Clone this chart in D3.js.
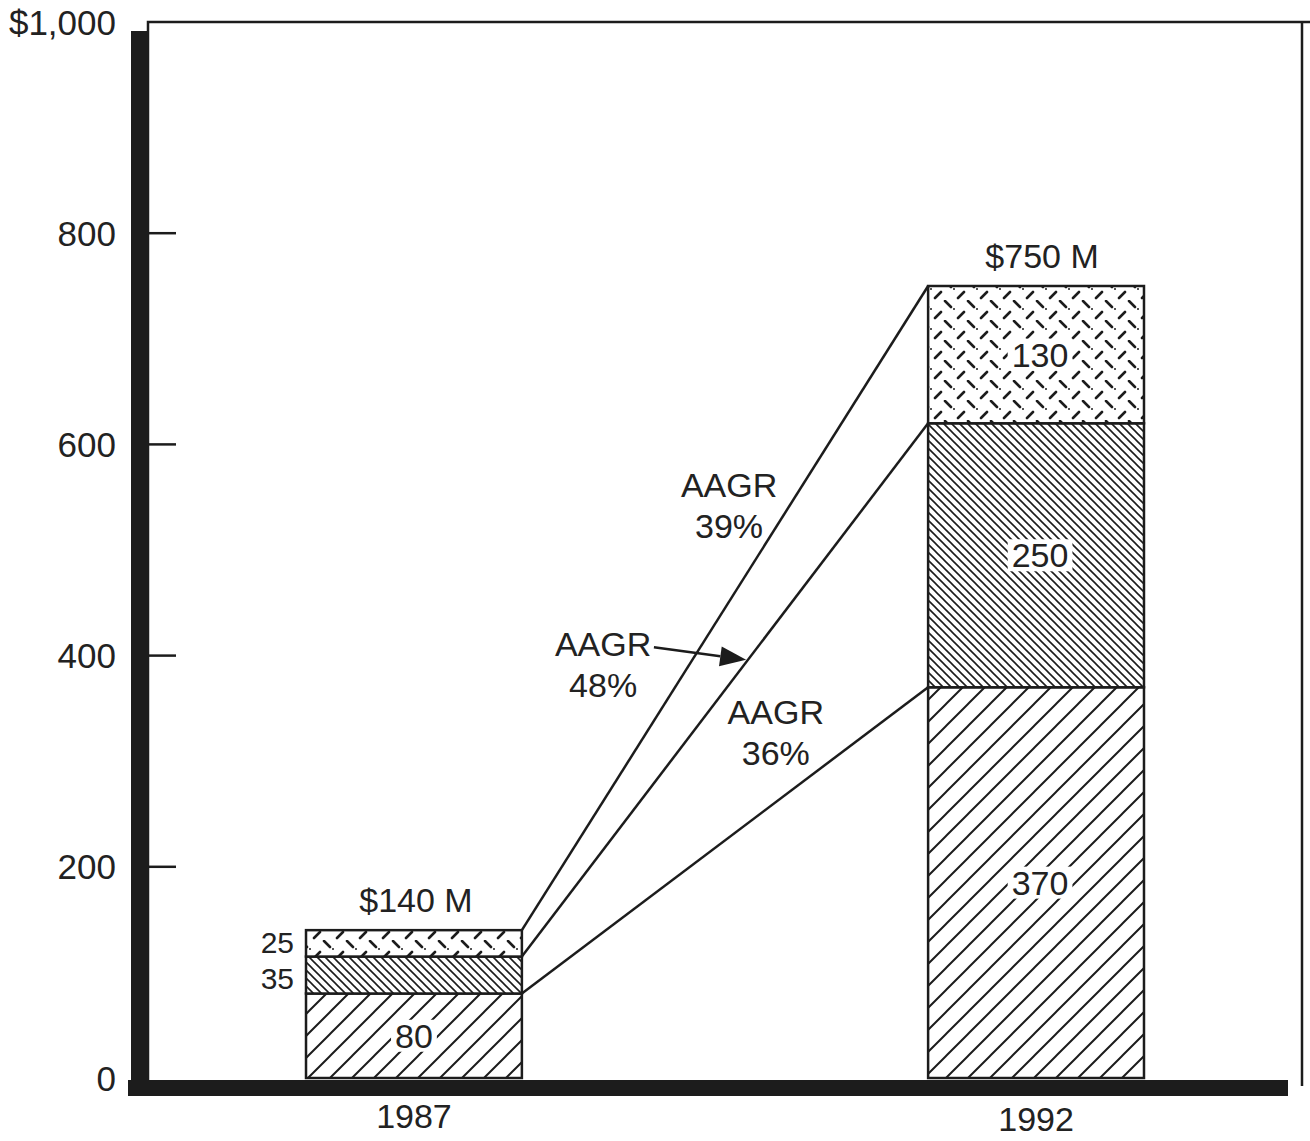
<!DOCTYPE html>
<html>
<head>
<meta charset="utf-8">
<script src="https://cdn.jsdelivr.net/npm/d3@7"></script>
<style>
  html, body { margin: 0; padding: 0; background: #ffffff; }
  svg { display: block; }
  text { font-family: "Liberation Sans", Arial, Helvetica, sans-serif; fill: #222; }
</style>
</head>
<body>
<svg id="chart" width="1310" height="1141"></svg>
<script>
// ---- data ----
const years = ["1987", "1992"];
const values1987 = [80, 35, 25];      // bottom, middle, top segments
const values1992 = [370, 250, 130];
const totalLabels = ["$140 M", "$750 M"];
const yTicks = [0, 200, 400, 600, 800, 1000];
const yTickLabels = ["0", "200", "400", "600", "800", "$1,000"];
const growthRates = ["36%", "48%", "39%"];        // per segment boundary (bottom, middle, top)
const growthAnnotT = [0.625, 0.20, 0.51];          // position between bars (0..1)
const growthAnnotV = [335, 400, 550];              // vertical position in value units
const arrowFromT = 0.325, arrowFromV = 408, arrowToT = 0.552, arrowToV = 396;

// ---- setup ----
const svg = d3.select("#chart");
const W = 1310, H = 1141;
const ink = "#1c1c1c";
const FS = 34;

const y = d3.scaleLinear().domain([0, 1000]).range([1078, 22]);
const x = d3.scaleBand().domain(years).range([148, 1302]).paddingInner(0.653).paddingOuter(0.254);

svg.append("rect").attr("width", W).attr("height", H).attr("fill", "#fff");

// ---- patterns ----
const defs = svg.append("defs");
const pWide = defs.append("pattern").attr("id", "hatchWide").attr("patternUnits", "userSpaceOnUse")
  .attr("width", 22).attr("height", 22);
pWide.append("rect").attr("width", 22).attr("height", 22).attr("fill", "#fff");
pWide.append("path").attr("d", "M0,22 L22,0 M-11,11 L11,-11 M11,33 L33,11")
  .attr("stroke", ink).attr("stroke-width", 2);

const pDense = defs.append("pattern").attr("id", "hatchDense").attr("patternUnits", "userSpaceOnUse")
  .attr("width", 8).attr("height", 8);
pDense.append("rect").attr("width", 8).attr("height", 8).attr("fill", "#fff");
pDense.append("path").attr("d", "M0,0 L8,8 M-4,4 L4,12 M4,-4 L12,4")
  .attr("stroke", ink).attr("stroke-width", 1.6);

const pDash = defs.append("pattern").attr("id", "dashes").attr("patternUnits", "userSpaceOnUse")
  .attr("width", 23).attr("height", 20);
pDash.append("rect").attr("width", 23).attr("height", 20).attr("fill", "#fff");
pDash.append("path").attr("d", "M2,1 L8,7 M15,18 L21,12")
  .attr("stroke", ink).attr("stroke-width", 2.6).attr("stroke-linecap", "round");
pDash.append("circle").attr("cx", 11).attr("cy", 9).attr("r", 1).attr("fill", ink);

const fills = ["url(#hatchWide)", "url(#hatchDense)", "url(#dashes)"];

// ---- stacks ----
const series = [values1987, values1992];
const stacks = series.map((vals, i) => {
  let acc = 0;
  return vals.map((v, j) => { const s = { year: years[i], idx: j, v, y0: acc, y1: acc + v }; acc += v; return s; });
});

// ---- connector lines ----
const xr = x(years[0]) + x.bandwidth();
const xl = x(years[1]);
const lerpX = t => xr + t * (xl - xr);
stacks[0].forEach((s, j) => {
  svg.append("line")
    .attr("x1", xr).attr("y1", y(s.y1))
    .attr("x2", xl).attr("y2", y(stacks[1][j].y1))
    .attr("stroke", ink).attr("stroke-width", 2.5);
});

// ---- bars ----
stacks.forEach(st => {
  const g = svg.append("g");
  g.selectAll("rect").data(st).join("rect")
    .attr("x", d => x(d.year))
    .attr("width", x.bandwidth())
    .attr("y", d => y(d.y1))
    .attr("height", d => y(d.y0) - y(d.y1))
    .attr("fill", d => fills[d.idx])
    .attr("stroke", ink).attr("stroke-width", 2.5);
});

// ---- segment labels ----
function boxedText(cx, cy, str) {
  const g = svg.append("g");
  const bg = g.append("rect").attr("fill", "#fff");
  const t = g.append("text").attr("x", cx).attr("y", cy).attr("text-anchor", "middle")
    .attr("dominant-baseline", "central").attr("font-size", FS).text(str);
  const b = t.node().getBBox();
  bg.attr("x", b.x - 4).attr("y", b.y + 3).attr("width", b.width + 8).attr("height", b.height - 6);
}
// 1987: bottom inside, other two to the left
stacks[0].forEach((s, j) => {
  const cy = (y(s.y0) + y(s.y1)) / 2;
  if (j === 0) boxedText(x(s.year) + x.bandwidth() / 2, cy, String(s.v));
  else svg.append("text").attr("x", x(s.year) - 12).attr("y", cy + (j === 1 ? 3 : -1)).attr("text-anchor", "end")
    .attr("dominant-baseline", "central").attr("font-size", 30).text(String(s.v));
});
stacks[1].forEach(s => {
  const cy = (y(s.y0) + y(s.y1)) / 2;
  boxedText(x(s.year) + x.bandwidth() / 2 + 4, cy, String(s.v));
});

// totals
stacks.forEach((st, i) => {
  const top = st[st.length - 1].y1;
  svg.append("text").attr("x", x(years[i]) + x.bandwidth() / 2 + (i ? 6 : 2)).attr("y", y(top) - 18)
    .attr("text-anchor", "middle").attr("font-size", FS).text(totalLabels[i]);
});

// ---- growth annotations ----
growthRates.forEach((r, j) => {
  const cx = lerpX(growthAnnotT[j]);
  const by = y(growthAnnotV[j]);
  svg.append("text").attr("x", cx).attr("y", by).attr("text-anchor", "middle").attr("font-size", FS).text("AAGR");
  svg.append("text").attr("x", cx).attr("y", by + 41).attr("text-anchor", "middle").attr("font-size", FS).text(r);
});
// arrow for the 48% label
{
  const x1 = lerpX(arrowFromT), y1 = y(arrowFromV), x2 = lerpX(arrowToT), y2 = y(arrowToV);
  const ang = Math.atan2(y2 - y1, x2 - x1);
  const L = 26, Wd = 10;
  const bx = x2 - L * Math.cos(ang), by = y2 - L * Math.sin(ang);
  svg.append("line").attr("x1", x1).attr("y1", y1).attr("x2", bx).attr("y2", by)
    .attr("stroke", ink).attr("stroke-width", 2.5);
  const px = -Math.sin(ang) * Wd, py = Math.cos(ang) * Wd;
  svg.append("path").attr("d", `M${x2},${y2} L${bx + px},${by + py} L${bx - px},${by - py} Z`).attr("fill", ink);
}

// ---- frame & axes ----
const x0 = 148, xRight = 1302;
svg.append("path").attr("d", `M${x0},${y(0) + 2} L${x0},${y(1000)} L${W},${y(1000)}`)
  .attr("fill", "none").attr("stroke", ink).attr("stroke-width", 2.5);
svg.append("line").attr("x1", xRight).attr("y1", y(1000)).attr("x2", xRight).attr("y2", y(0) + 8)
  .attr("stroke", ink).attr("stroke-width", 2.5);
// thick left axis
svg.append("rect").attr("x", x0 - 17).attr("y", y(1000) + 9).attr("width", 17).attr("height", y(0) - y(1000) + 8)
  .attr("fill", ink);
// thick bottom axis
svg.append("rect").attr("x", x0 - 20).attr("y", y(0) + 2).attr("width", 1288 - (x0 - 20)).attr("height", 16)
  .attr("fill", ink);

// y ticks
const tickG = svg.append("g");
yTicks.forEach((v, i) => {
  if (v > 0 && v < 1000) {
    tickG.append("line").attr("x1", x0).attr("x2", x0 + 28).attr("y1", y(v)).attr("y2", y(v))
      .attr("stroke", ink).attr("stroke-width", 2.5);
  }
  tickG.append("text").attr("x", 116).attr("y", y(v)).attr("text-anchor", "end")
    .attr("dominant-baseline", "central").attr("font-size", 35).text(yTickLabels[i]);
});

// x labels
years.forEach((yr, i) => {
  svg.append("text").attr("x", x(yr) + x.bandwidth() / 2).attr("y", 1128 + i * 3)
    .attr("text-anchor", "middle").attr("font-size", FS).text(yr);
});
</script>
</body>
</html>
